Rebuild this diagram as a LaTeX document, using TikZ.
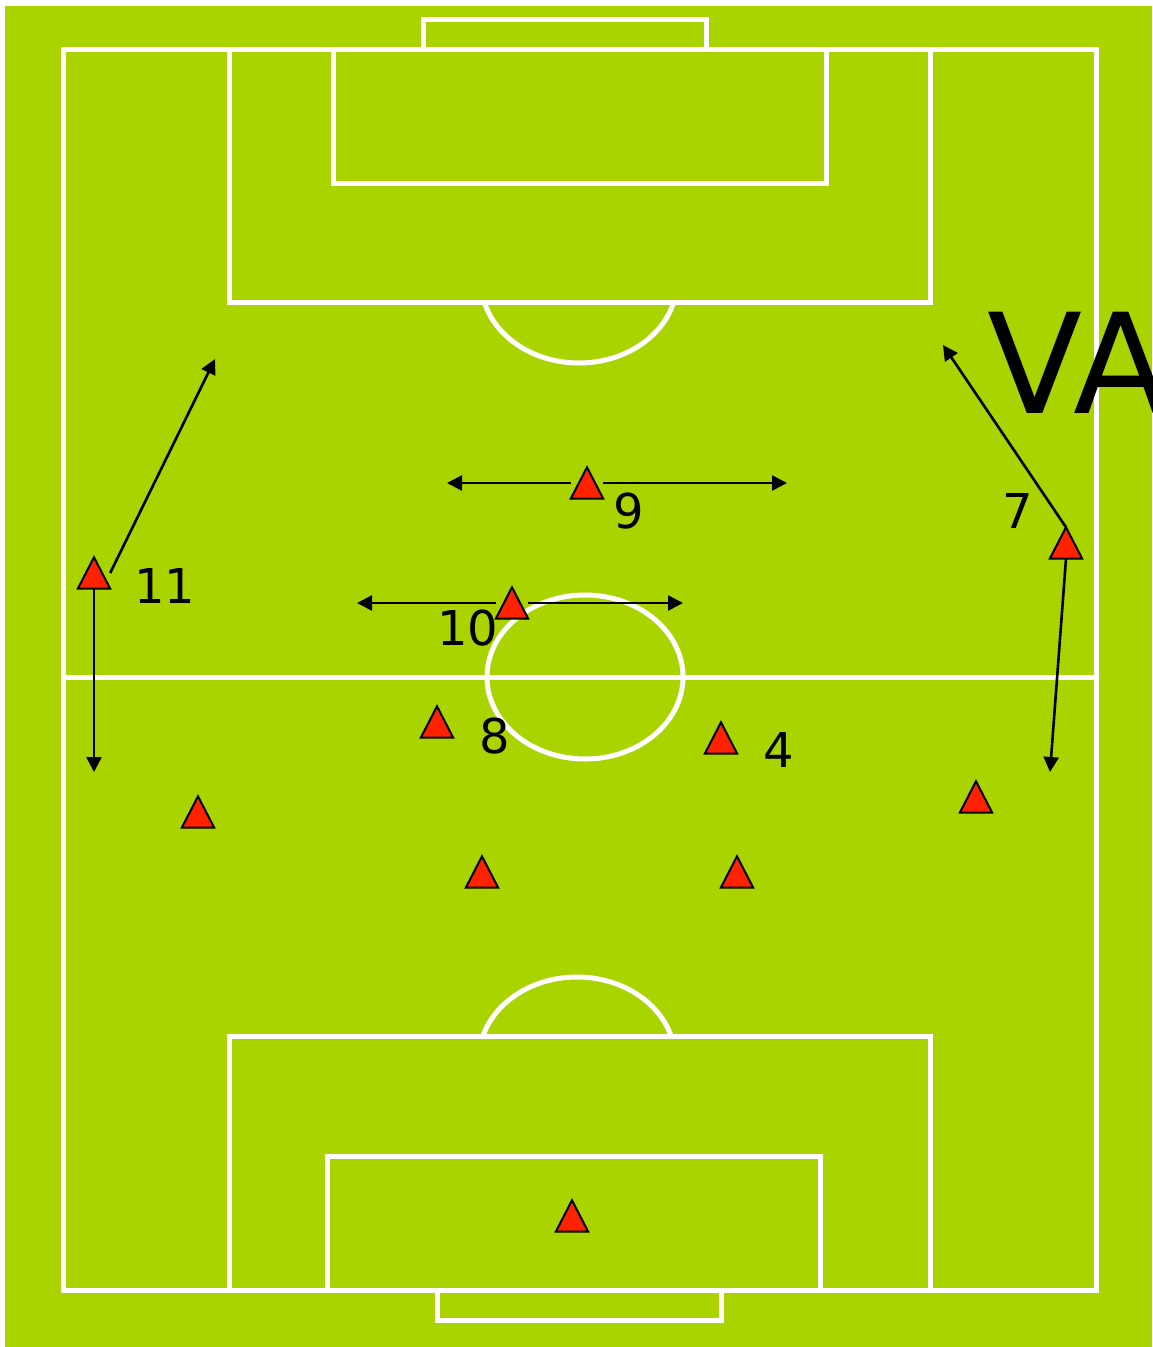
\documentclass[tikz,border=0pt]{standalone}
\usepackage{fontspec}
\setmainfont{DejaVu Sans}
\usetikzlibrary{arrows.meta}
\definecolor{pitch}{RGB}{170,212,0}
\definecolor{cone}{RGB}{255,34,0}
\tikzset{
  fieldline/.style={draw=white, line width=5pt},
  slot/.style={rectangle, inner sep=0pt, minimum width=32pt, minimum height=31pt},
  cone/.style={fill=cone, draw=black, line width=2pt, line join=miter},
  arr/.style={draw=black, line width=2.6pt, -{Triangle[length=15pt,width=15pt]}},
  num/.style={font=\fontsize{48}{56}\selectfont, inner sep=0pt}
}
\begin{document}
\begin{tikzpicture}[x=1pt, y=-1pt]
\clip (0,0) rectangle (1152,1347);
\fill[white] (0,0) rectangle (1152,1347);
\fill[pitch] (5,6) rectangle (1152,1347);
% field markings
\draw[fieldline] (63,49) rectangle (1096,1290);
\draw[fieldline] (63,677) -- (1096,677);
\draw[fieldline] (585,677) ellipse [x radius=98, y radius=82];
% top end
\draw[fieldline] (423,49) -- (423,19) -- (706,19) -- (706,49);
\draw[fieldline] (229,49) rectangle (930,302);
\draw[fieldline] (333,49) rectangle (826,183);
\begin{scope}
\clip (400,302) rectangle (760,400);
\draw[fieldline] (579,281) ellipse [x radius=98, y radius=82];
\end{scope}
% bottom end
\draw[fieldline] (437,1290) -- (437,1320) -- (721,1320) -- (721,1290);
\draw[fieldline] (229,1036) rectangle (930,1290);
\draw[fieldline] (327,1156) rectangle (820,1290);
\begin{scope}
\clip (400,950) rectangle (760,1036);
\draw[fieldline] (577,1059) ellipse [x radius=98, y radius=82];
\end{scope}
% players (cone slots)
\node[slot] (p11) at (94,573) {};
\node[slot] (p9) at (587,483) {};
\node[slot] (p10) at (512,603) {};
\node[slot] (p7) at (1066,543) {};
\node[slot] (p8) at (437,722) {};
\node[slot] (p4) at (721,738) {};
\node[slot] (pcl) at (482,872) {};
\node[slot] (pcr) at (737,872) {};
\node[slot] (plb) at (198,812) {};
\node[slot] (prb) at (976,797) {};
\node[slot] (pgk) at (572,1216) {};
% arrow targets
\coordinate (t11u) at (215,359);
\coordinate (t11d) at (94,772);
\coordinate (t9l) at (447,483);
\coordinate (t9r) at (787,483);
\coordinate (t10l) at (357,603);
\coordinate (t10r) at (683,603);
\coordinate (t7u) at (943,345);
\coordinate (t7d) at (1050,772);
% arrows
\draw[arr] (p11.east) -- (t11u);
\draw[arr] (p11.south) -- (t11d);
\draw[arr] (p9.west) -- (t9l);
\draw[arr] (p9.east) -- (t9r);
\draw[arr] (p10.west) -- (t10l);
\draw[arr] (p10.east) -- (t10r);
\draw[arr] (p7.north) -- (t7u);
\draw[arr] (p7.south) -- (t7d);
% cones
\foreach \n in {p11,p9,p10,p7,p8,p4,pcl,pcr,plb,prb,pgk}
  \draw[cone] (\n.south west) -- (\n.north) -- (\n.south east) -- cycle;
% labels
\node[num] (l11) at (165,586) {11};
\node[num] (l9) at (629,511) {9};
\node[num] (l10) at (468,628) {10};
\node[num] (l7) at (1018,511) {7};
\node[num] (l8) at (495,736) {8};
\node[num] (l4) at (779,750) {4};
\node[anchor=base west, inner sep=0pt, font=\fontsize{139}{160}\selectfont] (va) at (987,413) {VA};
\end{tikzpicture}
\end{document}
